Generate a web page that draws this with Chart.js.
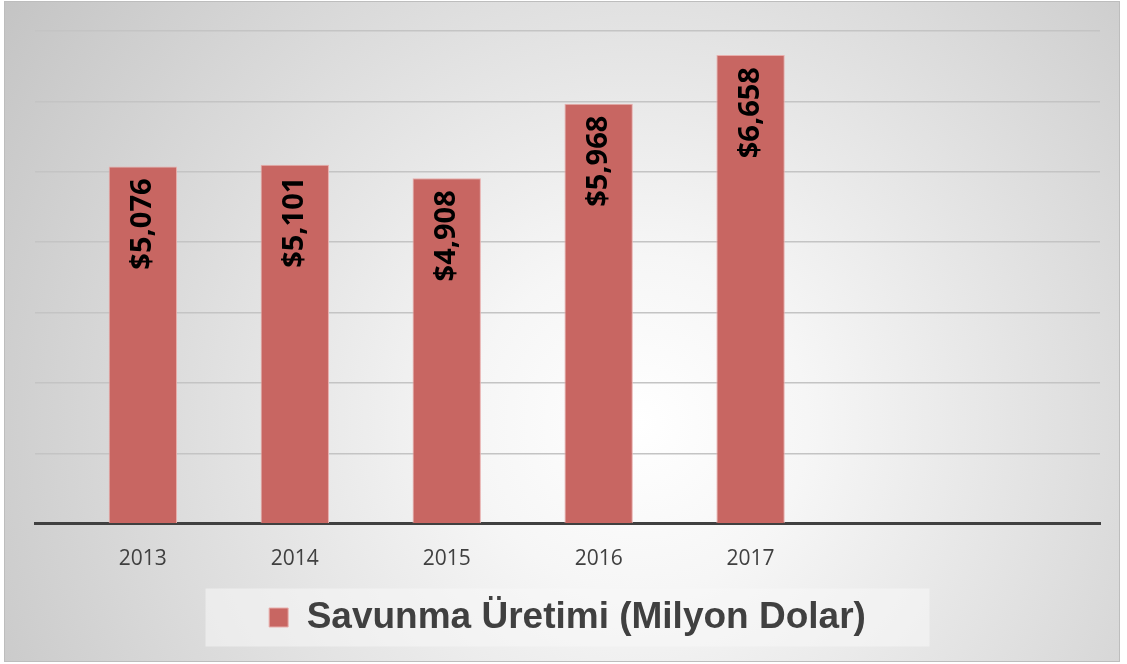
<!DOCTYPE html>
<html>
<head>
<meta charset="utf-8">
<script src="https://cdn.jsdelivr.net/npm/chart.js@4"></script>
<style>
  html, body { margin: 0; padding: 0; background: #fff; }
  #wrap { position: relative; width: 1127px; height: 664px; }
  #frame {
    position: absolute; left: 4px; top: 1px; width: 1114px; height: 659px;
    border: 1px solid #bdbdbd;
    background: radial-gradient(circle farthest-corner at 57% 64%, #ffffff 0%, #f6f6f6 22%, #c4c4c4 100%);
  }
  #chart { position: absolute; left: 0; top: 0; }
</style>
</head>
<body>
<div id="wrap">
  <div id="frame"></div>
  <canvas id="chart" width="1127" height="664"></canvas>
</div>
<script>
// Yıllar
const years = ['2013', '2014', '2015', '2016', '2017'];
// Savunma üretimi, milyon dolar
const production = [5076, 5101, 4908, 5968, 6658];
const seriesName = 'Savunma Üretimi (Milyon Dolar)';

const barColor = '#c86662';

// Çubukların içine dikey değer etiketleri
const valueLabels = {
    id: 'valueLabels',
    afterDatasetsDraw(chart) {
        const ctx = chart.ctx;
        const meta = chart.getDatasetMeta(0);
        ctx.save();
        ctx.font = 'bold 29px "Open Sans"';
        ctx.fillStyle = '#000';
        ctx.textAlign = 'right';
        ctx.textBaseline = 'middle';
        meta.data.forEach((bar, i) => {
            ctx.save();
            ctx.translate(bar.x, bar.y + 12);
            ctx.rotate(-Math.PI / 2);
            ctx.fillText('$' + production[i].toLocaleString('en-US'), 0, 0);
            ctx.restore();
        });
        ctx.restore();
    }
};

// Lejantın arkasındaki açık kutu
const legendBox = {
    id: 'legendBox',
    beforeDraw(chart) {
        const hb = chart.legend && chart.legend.legendHitBoxes && chart.legend.legendHitBoxes[0];
        if (!hb) return;
        const ctx = chart.ctx;
        const cx = hb.left + hb.width / 2;
        const cy = hb.top + hb.height / 2;
        ctx.save();
        ctx.fillStyle = 'rgba(248,248,248,0.55)';
        ctx.fillRect(cx - 362, cy - 29, 724, 58);
        ctx.restore();
    }
};

const ctx = document.getElementById('chart').getContext('2d');
new Chart(ctx, {
    type: 'bar',
    data: {
        datasets: [{
            label: seriesName,
            data: production.map((v, i) => ({ x: i, y: v })),
            backgroundColor: barColor,
            borderColor: '#e8aeac',
            borderWidth: 1,
            barPercentage: 0.45,
            categoryPercentage: 1
        }]
    },
    options: {
        responsive: false,
        animation: false,
        layout: {
            padding: { left: 35, right: 27, top: 31, bottom: 18 }
        },
        scales: {
            x: {
                type: 'linear',
                min: -0.71,
                max: 6.3,
                offset: false,
                grid: { display: false, offset: false },
                border: { display: true, color: '#404040', width: 3 },
                afterBuildTicks: (scale) => {
                    scale.ticks = years.map((_, i) => ({ value: i }));
                },
                ticks: {
                    autoSkip: false,
                    maxRotation: 0,
                    color: '#404040',
                    font: { family: '"Open Sans"', size: 21 },
                    padding: 15,
                    callback: (value) => years[value] ?? ''
                }
            },
            y: {
                min: 0,
                max: 7000,
                ticks: { display: false, stepSize: 1000 },
                grid: { color: '#c4c4c4', lineWidth: 1.5, drawTicks: false },
                border: { display: false }
            }
        },
        plugins: {
            legend: {
                position: 'bottom',
                labels: {
                    color: '#404040',
                    font: { family: '"Liberation Sans"', size: 37, weight: 'bold' },
                    boxWidth: 19,
                    boxHeight: 19,
                    padding: 12
                }
            },
            tooltip: { enabled: false }
        }
    },
    plugins: [legendBox, valueLabels]
});
</script>
</body>
</html>
